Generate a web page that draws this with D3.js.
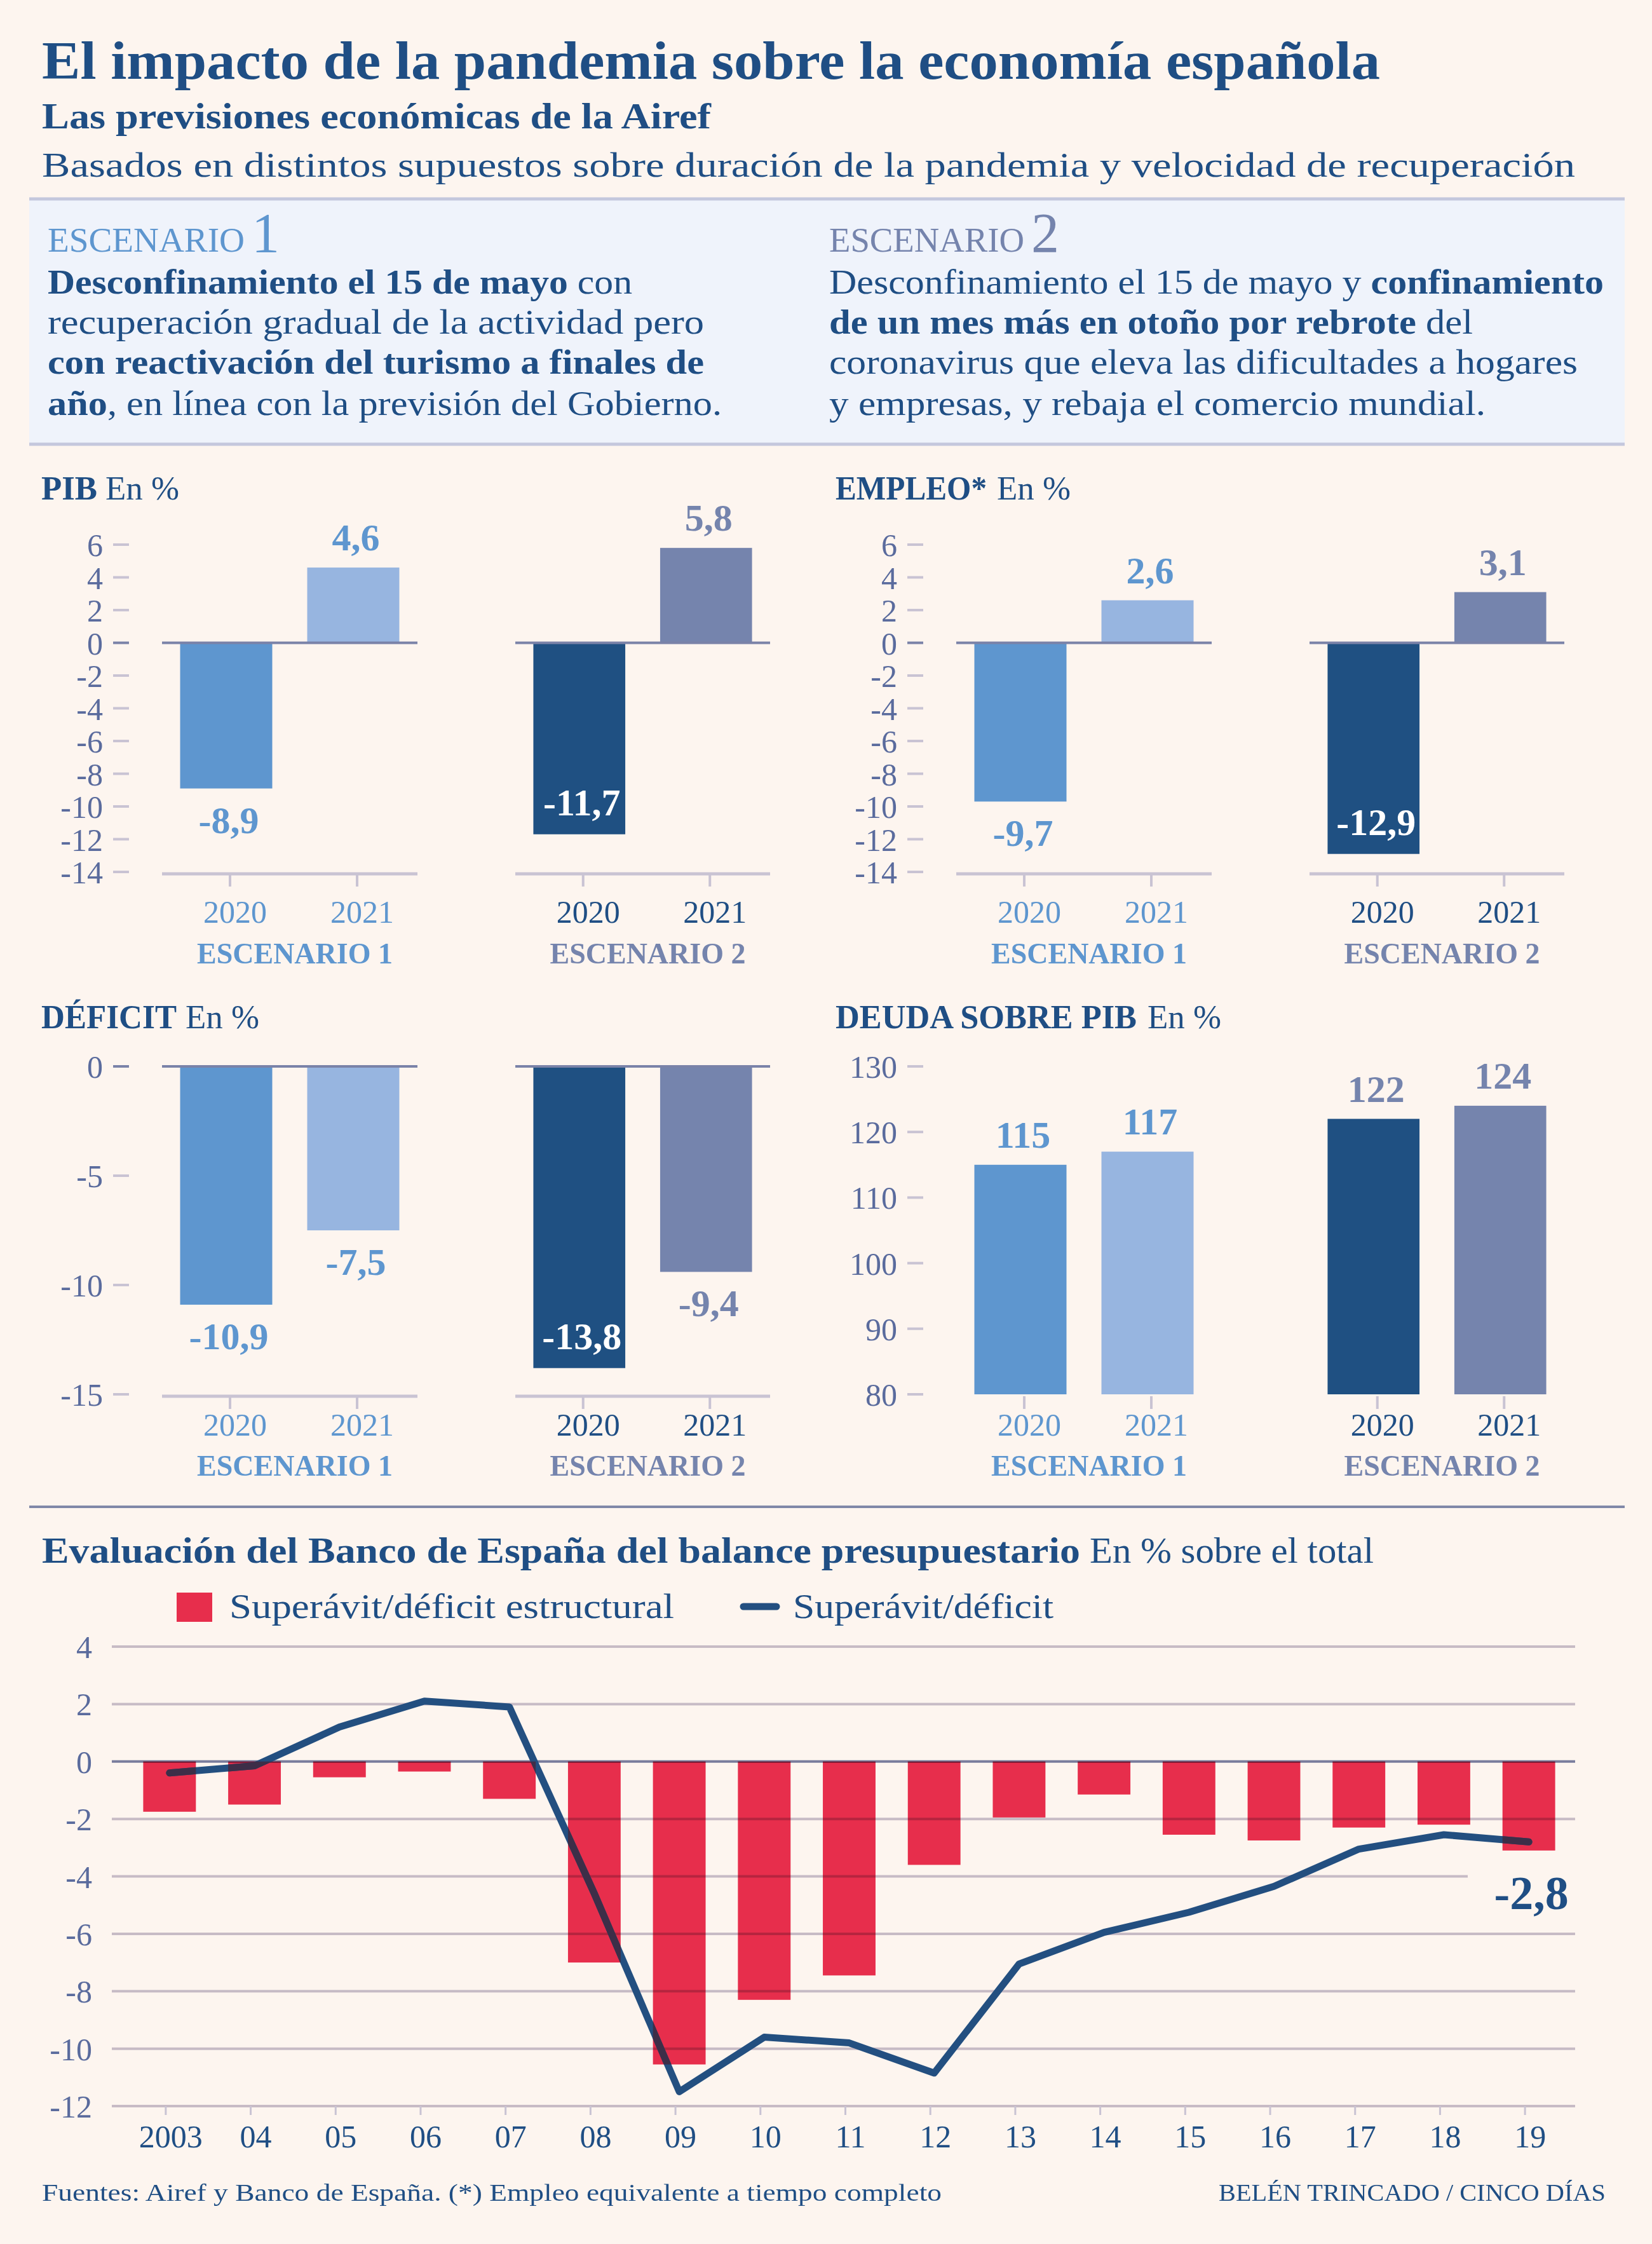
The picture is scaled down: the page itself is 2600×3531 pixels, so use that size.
<!DOCTYPE html>
<html><head><meta charset="utf-8">
<script src="https://cdn.jsdelivr.net/npm/d3@7"></script>
<style>
body{margin:0;background:#fdf5ef}
svg{display:block}
text{font-family:"Liberation Serif","DejaVu Serif",serif}
</style></head>
<body><svg id="c" width="2600" height="3531"></svg>
<script>
// ---------------- DATA ----------------
const years = ["2020", "2021"];
const scenarios = ["ESCENARIO 1", "ESCENARIO 2"];
const pibValues = [[-8.9, 4.6], [-11.7, 5.8]];
const empleoValues = [[-9.7, 2.6], [-12.9, 3.1]];
const deficitValues = [[-10.9, -7.5], [-13.8, -9.4]];
const deudaValues = [[115, 117], [122, 124]];
const pibTicks = [6, 4, 2, 0, -2, -4, -6, -8, -10, -12, -14];
const deficitTicks = [0, -5, -10, -15];
const deudaTicks = [130, 120, 110, 100, 90, 80];

const balanceYears = ["2003","04","05","06","07","08","09","10","11","12","13","14","15","16","17","18","19"];
const structuralBalance = [-1.75, -1.5, -0.55, -0.35, -1.3, -7.0, -10.55, -8.3, -7.45, -3.6, -1.95, -1.15, -2.55, -2.75, -2.3, -2.2, -3.1];
const totalBalance = [-0.4, -0.15, 1.2, 2.1, 1.9, -4.6, -11.5, -9.6, -9.8, -10.85, -7.05, -5.95, -5.25, -4.35, -3.05, -2.55, -2.8];
const balanceTicks = [4, 2, 0, -2, -4, -6, -8, -10, -12];

// ---------------- STYLE ----------------
const C = {
  dark: "#1f4e84", tick: "#5a6b9d", e1: "#5e96cf", e1l: "#97b5e0", e2d: "#1f5082", e2g: "#7584ad",
  zero: "#7a82a8", light: "#c9c3d3", red: "#e72e4c", line: "#234f80", overlap: "#3d2e48", bg: "#fdf5ef",
  box: "#eff3fb", boxLine: "#c4c7dd", sep: "#8088a8"
};
const fmt = v => String(v).replace(".", ",");
const svg = d3.select("#c");
svg.append("rect").attr("width", 2600).attr("height", 3531).attr("fill", C.bg);

function addText(parent, x, y, segs, o) {
  const t = parent.append("text").attr("x", x).attr("y", y)
    .attr("font-size", o.size).attr("fill", o.fill || C.dark)
    .attr("text-anchor", o.anchor || "start");
  if (o.width) t.attr("textLength", o.width).attr("lengthAdjust", "spacingAndGlyphs");
  segs.forEach(s => t.append("tspan").attr("font-weight", s[1] ? "bold" : "normal").text(s[0]));
  return t;
}

// ---------------- HEADER ----------------
addText(svg, 66, 124, [["El impacto de la pandemia sobre la economía española", true]], {size: 84, width: 2106});
addText(svg, 66, 202, [["Las previsiones económicas de la Airef", true]], {size: 57, width: 1053});
addText(svg, 66, 278, [["Basados en distintos supuestos sobre duración de la pandemia y velocidad de recuperación", false]], {size: 54, width: 2413});

svg.append("rect").attr("x", 46).attr("y", 313).attr("width", 2511).attr("height", 386).attr("fill", C.box);
[313, 699].forEach(y => svg.append("line").attr("x1", 46).attr("x2", 2557).attr("y1", y).attr("y2", y)
  .attr("stroke", C.boxLine).attr("stroke-width", 5));

addText(svg, 75, 396, [["ESCENARIO", false]], {size: 55, fill: C.e1, width: 310});
addText(svg, 396, 396, [["1", false]], {size: 88, fill: C.e1});
addText(svg, 1305, 396, [["ESCENARIO", false]], {size: 55, fill: C.e2g, width: 307});
addText(svg, 1623, 396, [["2", false]], {size: 88, fill: C.e2g});

const leftPar = [
  [[["Desconfinamiento el 15 de mayo", true], [" con", false]], 920],
  [[["recuperación gradual de la actividad pero", false]], 1033],
  [[["con reactivación del turismo a finales de", true]], 1033],
  [[["año", true], [", en línea con la previsión del Gobierno.", false]], 1061]
];
const rightPar = [
  [[["Desconfinamiento el 15 de mayo y ", false], ["confinamiento", true]], 1219],
  [[["de un mes más en otoño por rebrote", true], [" del", false]], 1013],
  [[["coronavirus que eleva las dificultades a hogares", false]], 1178],
  [[["y empresas, y rebaja el comercio mundial.", false]], 1033]
];
const parY = [462, 525, 588, 653];
leftPar.forEach((l, i) => addText(svg, 75, parY[i], l[0], {size: 54, width: l[1]}));
rightPar.forEach((l, i) => addText(svg, 1305, parY[i], l[0], {size: 54, width: l[1]}));

// ---------------- SMALL BAR PANELS ----------------
const barColors = [[C.e1, C.e1l], [C.e2d, C.e2g]];
const labelColors = [C.e1, C.e2g];
const yearColors = [C.e1, C.dark];
const scenColors = [C.e1, C.e2g];

function panelChart(cfg) {
  const g = svg.append("g").attr("transform", `translate(${cfg.ox},0)`);
  addText(g, 65, cfg.titleY, [[cfg.titleBold, true]], {size: 52, width: cfg.boldW});
  addText(g, cfg.restX, cfg.titleY, [["En %", false]], {size: 52, width: 116});

  const y = d3.scaleLinear().domain(cfg.domain).range(cfg.range);
  cfg.ticks.forEach(t => {
    g.append("line").attr("x1", 178).attr("x2", 203).attr("y1", y(t)).attr("y2", y(t))
      .attr("stroke", t === 0 && cfg.zero ? C.zero : C.light).attr("stroke-width", 4);
    g.append("text").attr("x", 162).attr("y", y(t)).attr("dy", "0.36em").attr("text-anchor", "end")
      .attr("font-size", 50).attr("fill", C.tick).text(t);
  });

  const panels = [[255, 657], [811, 1212]];
  cfg.values.forEach((vals, si) => {
    const [a, b] = panels[si];
    const x = d3.scaleBand().domain(years).range([a, b]).paddingInner(0.275).paddingOuter(0.1425);
    const base = cfg.base;
    if (cfg.axisLine) {
      g.append("line").attr("x1", a).attr("x2", b).attr("y1", y(cfg.domain[0]) + 3).attr("y2", y(cfg.domain[0]) + 3)
        .attr("stroke", C.light).attr("stroke-width", 5);
    }
    years.forEach((yr, i) => {
      const v = vals[i];
      const cx = x(yr) + x.bandwidth() / 2;
      g.append("rect").attr("x", x(yr)).attr("width", x.bandwidth())
        .attr("y", Math.min(y(v), y(base))).attr("height", Math.abs(y(v) - y(base)))
        .attr("fill", barColors[si][i]);
      const axY = y(cfg.domain[0]) + 3;
      g.append("line").attr("x1", cx + 6).attr("x2", cx + 6).attr("y1", axY).attr("y2", axY + 20)
        .attr("stroke", C.light).attr("stroke-width", 4);
      g.append("text").attr("x", cx + 14).attr("y", cfg.yearY).attr("text-anchor", "middle")
        .attr("font-size", 50).attr("fill", yearColors[si]).text(yr);
      let ly, col = labelColors[si];
      if (v >= base) ly = y(v) - 27;
      else if (si === 1 && i === 0) { ly = y(v) - 30; col = "#ffffff"; }
      else ly = y(v) + 70;
      g.append("text").attr("x", cx + 4).attr("y", ly).attr("text-anchor", "middle")
        .attr("font-size", 60).attr("font-weight", "bold").attr("fill", col).text(fmt(v));
    });
    if (cfg.zero) {
      g.append("line").attr("x1", a).attr("x2", b).attr("y1", y(0)).attr("y2", y(0))
        .attr("stroke", C.zero).attr("stroke-width", 4);
    }
    g.append("text").attr("x", (a + b) / 2 + 8).attr("y", cfg.scenY).attr("text-anchor", "middle")
      .attr("font-size", 46).attr("font-weight", "bold").attr("fill", scenColors[si]).text(scenarios[si]);
  });
}

panelChart({ox: 0, titleBold: "PIB", boldW: 88, restX: 166, titleY: 786, domain: [-14, 6], range: [1372, 857],
  ticks: pibTicks, values: pibValues, base: 0, zero: true, axisLine: true, yearY: 1452, scenY: 1516});
panelChart({ox: 1250, titleBold: "EMPLEO*", boldW: 238, restX: 319, titleY: 786, domain: [-14, 6], range: [1372, 857],
  ticks: pibTicks, values: empleoValues, base: 0, zero: true, axisLine: true, yearY: 1452, scenY: 1516});
panelChart({ox: 0, titleBold: "DÉFICIT", boldW: 213, restX: 292, titleY: 1618, domain: [-15, 0], range: [2194, 1678],
  ticks: deficitTicks, values: deficitValues, base: 0, zero: true, axisLine: true, yearY: 2259, scenY: 2322});
panelChart({ox: 1250, titleBold: "DEUDA SOBRE PIB", boldW: 474, restX: 556, titleY: 1618, domain: [80, 130], range: [2194, 1678],
  ticks: deudaTicks, values: deudaValues, base: 80, zero: false, axisLine: false, yearY: 2259, scenY: 2322});

svg.append("line").attr("x1", 46).attr("x2", 2557).attr("y1", 2371).attr("y2", 2371)
  .attr("stroke", C.sep).attr("stroke-width", 4);

// ---------------- BOTTOM CHART ----------------
addText(svg, 66, 2459, [["Evaluación del Banco de España del balance presupuestario", true]], {size: 56, width: 1634});
addText(svg, 1715, 2459, [["En % sobre el total", false]], {size: 56, width: 447});

svg.append("rect").attr("x", 278).attr("y", 2506).attr("width", 56).attr("height", 46).attr("fill", C.red);
addText(svg, 361, 2546, [["Superávit/déficit estructural", false]], {size: 54, width: 700});
svg.append("line").attr("x1", 1170).attr("x2", 1222).attr("y1", 2528).attr("y2", 2528)
  .attr("stroke", C.line).attr("stroke-width", 11).attr("stroke-linecap", "round");
addText(svg, 1248, 2546, [["Superávit/déficit", false]], {size: 54, width: 410});

const by = d3.scaleLinear().domain([-12, 4]).range([3314, 2591]);
const bx = d3.scaleBand().domain(balanceYears).range([200, 2473]).paddingInner(0.38).paddingOuter(0.19);
const bc = d => bx(d) + bx.bandwidth() / 2;

const barAttrs = sel => sel
  .attr("x", d => bx(d)).attr("width", bx.bandwidth())
  .attr("y", (d, i) => by(Math.max(0, structuralBalance[i])))
  .attr("height", (d, i) => Math.abs(by(structuralBalance[i]) - by(0)));

svg.append("g").selectAll("rect").data(balanceYears).join("rect").call(barAttrs).attr("fill", C.red);
svg.append("defs").append("clipPath").attr("id", "barclip")
  .selectAll("rect").data(balanceYears).join("rect").call(barAttrs);

const grid = svg.append("g").style("mix-blend-mode", "multiply");
balanceTicks.forEach(t => {
  grid.append("line").attr("x1", 176).attr("x2", 2479).attr("y1", by(t)).attr("y2", by(t))
    .attr("stroke", t === 0 ? C.zero : C.light).attr("stroke-width", 4);
  svg.append("text").attr("x", 145).attr("y", by(t)).attr("dy", "0.36em").attr("text-anchor", "end")
    .attr("font-size", 50).attr("fill", C.tick).text(t);
});

balanceYears.forEach(d => {
  svg.append("line").attr("x1", bc(d) - 6).attr("x2", bc(d) - 6).attr("y1", by(-12)).attr("y2", by(-12) + 14)
    .attr("stroke", C.light).attr("stroke-width", 3);
  svg.append("text").attr("x", bc(d) + 2).attr("y", 3379).attr("text-anchor", "middle")
    .attr("font-size", 50).attr("fill", C.dark).text(d);
});

const lastI = balanceYears.length - 1;
svg.append("rect").attr("x", 2310).attr("y", by(-4) - 6).attr("width", 175).attr("height", 12).attr("fill", C.bg);

const lineGen = d3.line().x((v, i) => bc(balanceYears[i])).y(v => by(v));
svg.append("path").datum(totalBalance).attr("d", lineGen)
  .attr("fill", "none").attr("stroke", C.line).attr("stroke-width", 11)
  .attr("stroke-linejoin", "round").attr("stroke-linecap", "round");
svg.append("path").datum(totalBalance).attr("d", lineGen).attr("clip-path", "url(#barclip)")
  .attr("fill", "none").attr("stroke", C.overlap).attr("stroke-width", 11)
  .attr("stroke-linejoin", "round").attr("stroke-linecap", "round");

svg.append("text").attr("x", bc(balanceYears[lastI]) + 4).attr("y", by(totalBalance[lastI]) + 106)
  .attr("text-anchor", "middle").attr("font-size", 74).attr("font-weight", "bold").attr("fill", C.dark)
  .text(fmt(totalBalance[lastI]));

// ---------------- FOOTER ----------------
addText(svg, 66, 3463, [["Fuentes: Airef y Banco de España. (*) Empleo equivalente a tiempo completo", false]], {size: 38, width: 1416});
addText(svg, 1918, 3463, [["BELÉN TRINCADO / CINCO DÍAS", false]], {size: 38, width: 609});
</script>
</body></html>
